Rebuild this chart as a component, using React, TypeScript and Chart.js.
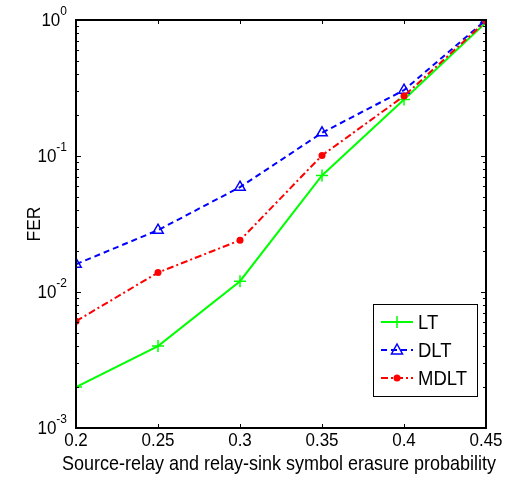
import React, { useEffect, useRef } from "react";
import { Chart, registerables } from "chart.js";

Chart.register(...registerables);

const xValues = [0.2, 0.25, 0.3, 0.35, 0.4, 0.45];
const xTickLabels = ["0.2", "0.25", "0.3", "0.35", "0.4", "0.45"];
const ltValues = [0.002, 0.004, 0.012, 0.072, 0.26, 0.96];
const dltValues = [0.016, 0.0285, 0.059, 0.148, 0.305, 1.0];
const mdltValues = [0.0061, 0.0139, 0.024, 0.101, 0.276, 0.98];
const yTickExponents = [0, -1, -2, -3];
const seriesNames = ["LT", "DLT", "MDLT"];
const xTitle = "Source-relay and relay-sink symbol erasure probability";
const yTitle = "FER";

const FONT = "'Liberation Sans', Arial, sans-serif";

function drawMarker(ctx: CanvasRenderingContext2D, style: string, x: number, y: number, color: string) {
  ctx.save();
  ctx.setLineDash([]);
  ctx.strokeStyle = color;
  ctx.fillStyle = color;
  ctx.lineWidth = 1.5;
  if (style === "cross") {
    ctx.beginPath();
    ctx.moveTo(x - 6, y);
    ctx.lineTo(x + 6, y);
    ctx.moveTo(x, y - 6);
    ctx.lineTo(x, y + 6);
    ctx.stroke();
  } else if (style === "triangle") {
    ctx.beginPath();
    ctx.moveTo(x, y - 6);
    ctx.lineTo(x + 5.5, y + 4);
    ctx.lineTo(x - 5.5, y + 4);
    ctx.closePath();
    ctx.stroke();
  } else {
    ctx.beginPath();
    ctx.arc(x, y, 3.5, 0, Math.PI * 2);
    ctx.fill();
  }
  ctx.restore();
}

// draw text slightly stretched vertically, like the reference's rendering
function stretchedText(ctx: CanvasRenderingContext2D, text: string, x: number, y: number, sy: number) {
  ctx.save();
  ctx.translate(x, y);
  ctx.scale(1, sy);
  ctx.fillText(text, 0, 0);
  ctx.restore();
}

const matlabAxes = {
  id: "matlabAxes",
  afterDraw(chart: any) {
    const ctx: CanvasRenderingContext2D = chart.ctx;
    const { left, right, top, bottom } = chart.chartArea;
    const xs = chart.scales.x;
    const ys = chart.scales.y;
    ctx.save();
    ctx.strokeStyle = "#000";
    ctx.fillStyle = "#000";
    ctx.lineWidth = 1;
    // minor ticks on log axis
    for (let e = -3; e < 0; e++) {
      for (let m = 1; m <= 9; m++) {
        const v = m * Math.pow(10, e);
        const py = Math.round(ys.getPixelForValue(v)) + 0.5;
        const len = m === 1 ? 5 : 3;
        ctx.beginPath();
        ctx.moveTo(left, py);
        ctx.lineTo(left + len, py);
        ctx.moveTo(right, py);
        ctx.lineTo(right - len, py);
        ctx.stroke();
      }
    }
    // x ticks
    xValues.forEach((v) => {
      const px = Math.round(xs.getPixelForValue(v)) + 0.5;
      ctx.beginPath();
      ctx.moveTo(px, bottom);
      ctx.lineTo(px, bottom - 4);
      ctx.moveTo(px, top);
      ctx.lineTo(px, top + 4);
      ctx.stroke();
    });
    // box
    ctx.lineWidth = 2;
    ctx.strokeRect(Math.round(left), Math.round(top), Math.round(right - left), Math.round(bottom - top));

    // x tick labels
    ctx.font = `17px ${FONT}`;
    ctx.textAlign = "center";
    ctx.textBaseline = "middle";
    xValues.forEach((v, i) => {
      stretchedText(ctx, xTickLabels[i], xs.getPixelForValue(v), bottom + 13, 1.1);
    });

    // x title
    ctx.font = `18px ${FONT}`;
    stretchedText(ctx, xTitle, (left + right) / 2 - 2, bottom + 37, 1.1);

    // y tick labels with superscripts
    yTickExponents.forEach((e) => {
      const py = ys.getPixelForValue(Math.pow(10, e));
      const exp = String(e);
      ctx.font = `12px ${FONT}`;
      const ew = ctx.measureText(exp).width;
      ctx.textBaseline = "middle";
      ctx.textAlign = "left";
      const expX = left - 9 - ew;
      stretchedText(ctx, exp, expX, py - 9, 1.1);
      ctx.font = `17px ${FONT}`;
      ctx.textAlign = "right";
      stretchedText(ctx, "10", expX, py + 1, 1.1);
    });

    // y title
    ctx.save();
    ctx.translate(35, (top + bottom) / 2);
    ctx.rotate(-Math.PI / 2);
    ctx.font = `17.5px ${FONT}`;
    ctx.textAlign = "center";
    ctx.textBaseline = "middle";
    ctx.scale(1, 1.1);
    ctx.fillText(yTitle, 0, 0);
    ctx.restore();

    // legend
    const lx = 373, ly = 304, lw = 104, lh = 92;
    ctx.fillStyle = "#fff";
    ctx.fillRect(lx, ly, lw, lh);
    ctx.lineWidth = 1;
    ctx.strokeStyle = "#000";
    ctx.strokeRect(lx + 0.5, ly + 0.5, lw, lh);
    chart.data.datasets.forEach((ds: any, i: number) => {
      const ry = ly + 18 + i * 28;
      ctx.save();
      ctx.strokeStyle = ds.borderColor;
      ctx.lineWidth = ds.borderWidth;
      ctx.setLineDash(ds.borderDash || []);
      ctx.beginPath();
      ctx.moveTo(lx + 8, ry);
      ctx.lineTo(lx + 40, ry);
      ctx.stroke();
      ctx.restore();
      drawMarker(ctx, ds.pointStyle, lx + 24, ry, ds.borderColor);
      ctx.fillStyle = "#000";
      ctx.font = `18.5px ${FONT}`;
      ctx.textAlign = "left";
      ctx.textBaseline = "middle";
      stretchedText(ctx, ds.label, lx + 45, ry + 1, 1.1);
    });
    ctx.restore();
  },
};

export default function App() {
  const ref = useRef<HTMLCanvasElement | null>(null);
  useEffect(() => {
    if (!ref.current) return;
    const mk = (vals: number[]) => xValues.map((x, i) => ({ x, y: vals[i] }));
    const chart = new Chart(ref.current, {
      type: "line",
      data: {
        datasets: [
          {
            label: seriesNames[0],
            data: mk(ltValues),
            borderColor: "#00ff00",
            backgroundColor: "#00ff00",
            borderWidth: 2,
            pointStyle: "cross",
            pointRadius: 6,
            pointBorderWidth: 1.5,
            tension: 0,
            order: 3,
          },
          {
            label: seriesNames[1],
            data: mk(dltValues),
            borderColor: "#0000ff",
            backgroundColor: "rgba(0,0,0,0)",
            borderWidth: 2,
            borderDash: [6, 4],
            pointStyle: "triangle",
            pointRadius: 6,
            pointBorderWidth: 1.5,
            tension: 0,
            order: 2,
          },
          {
            label: seriesNames[2],
            data: mk(mdltValues),
            borderColor: "#ff0000",
            backgroundColor: "#ff0000",
            borderWidth: 2,
            borderDash: [7, 3, 2, 3],
            pointStyle: "circle",
            pointRadius: 3.5,
            pointBorderWidth: 0,
            tension: 0,
            order: 1,
          },
        ],
      },
      options: {
        responsive: false,
        animation: false,
        layout: { padding: { top: 20, right: 19, left: 0, bottom: 0 } },
        plugins: { legend: { display: false }, tooltip: { enabled: false } },
        scales: {
          x: {
            type: "linear",
            min: 0.2,
            max: 0.45,
            grid: { display: false },
            border: { display: false },
            ticks: { display: false, stepSize: 0.05 },
            afterFit: (s: any) => {
              s.height = 60;
            },
          },
          y: {
            type: "logarithmic",
            min: 0.001,
            max: 1,
            grid: { display: false },
            border: { display: false },
            ticks: { display: false },
            afterFit: (s: any) => {
              s.width = 76;
            },
          },
        },
      },
      plugins: [matlabAxes],
    });
    return () => chart.destroy();
  }, []);
  return (
    <div style={{ position: "fixed", left: 0, top: 0, width: 505, height: 488, background: "#fff" }}>
      <canvas ref={ref} width={505} height={488} style={{ width: 505, height: 488 }} />
    </div>
  );
}
